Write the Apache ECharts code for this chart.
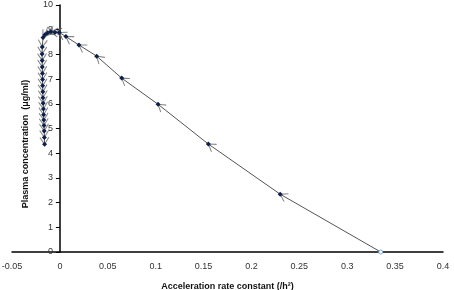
<!DOCTYPE html>
<html>
<head>
<meta charset="utf-8">
<script src="https://cdn.jsdelivr.net/npm/echarts@6/dist/echarts.min.js"></script>
<style>
html, body { margin: 0; padding: 0; background: #fff; }
#main { width: 454px; height: 290px; }
</style>
</head>
<body>
<div id="main"></div>
<script>
// trajectory, in the order it is travelled (start at the right, end at the bottom of the column)
var rateX = [0.335, 0.230, 0.155, 0.1025, 0.0645, 0.0384, 0.0199, 0.0063, -0.0007, -0.0052, -0.0094, -0.0129, -0.0157,
	-0.0176, -0.0184, -0.0186, -0.0185, -0.0184, -0.0182, -0.0181, -0.0180, -0.0178, -0.0177, -0.0175, -0.0172, -0.0170,
	-0.0168, -0.0166, -0.0164, -0.0162, -0.0160];
var concY = [0, 2.34, 4.37, 5.98, 7.04, 7.93, 8.38, 8.72, 8.89, 8.90, 8.92, 8.88, 8.80,
	8.68, 8.30, 8.02, 7.75, 7.49, 7.23, 6.98, 6.73, 6.49, 6.25, 6.02, 5.79, 5.56,
	5.34, 5.12, 4.90, 4.64, 4.36];
var xRange = [-0.05, 0.4], xStep = 0.05;
var yRange = [0, 10], yStep = 1;

var myChart = echarts.init(document.getElementById('main'));

var pts = rateX.map(function (x, i) { return [x, concY[i]]; });
var lineData = pts.map(function (p, i) {
	if (i === 0) {
		return { value: p, symbol: 'circle', symbolSize: 4, itemStyle: { color: '#fff', borderColor: '#7fa7d6', borderWidth: 1 } };
	}
	return p;
});

var arrowPath = 'path://M0,14 L5,7 L10,14 M5,0 L5,0';
var font = '"Liberation Sans Narrow", "Liberation Sans", sans-serif';
var gridLeft = 12, gridRight = 11;
// the vertical axis crosses at x = 0
var yAxisShift = -(0 - xRange[0]) / (xRange[1] - xRange[0]) * (454 - gridLeft - gridRight);

var option = {
	animation: false,
	grid: { left: gridLeft, right: gridRight, top: 5, bottom: 38, outerBoundsMode: 'none' },
	xAxis: {
		type: 'value',
		min: xRange[0], max: xRange[1], interval: xStep,
		name: 'Acceleration rate constant (/h\u00b2)',
		nameLocation: 'middle',
		nameGap: 30,
		nameTextStyle: { fontFamily: font, fontWeight: 'bold', fontSize: 9, color: '#111' },
		axisLine: { lineStyle: { color: '#000', width: 1.5 } },
		axisTick: { show: false },
		axisLabel: { fontFamily: font, fontSize: 9, color: '#333', margin: 10 },
		splitLine: { show: false }
	},
	yAxis: {
		type: 'value',
		min: yRange[0], max: yRange[1], interval: yStep,
		offset: yAxisShift,
		axisLine: { onZero: false, lineStyle: { color: '#000', width: 1.5 } },
		axisTick: { show: true, length: 4, lineStyle: { color: '#000' } },
		axisLabel: { fontFamily: font, fontSize: 9, color: '#333', margin: 7 },
		splitLine: { show: false }
	},
	graphic: [{
		type: 'text',
		x: 26, y: 144,
		rotation: Math.PI / 2,
		style: {
			text: 'Plasma concentration  (\u03bcg/ml)',
			font: 'bold 9px ' + font,
			fill: '#111',
			align: 'center',
			verticalAlign: 'middle'
		}
	}],
	series: [{
		name: 'path',
		type: 'line',
		data: lineData,
		symbol: 'diamond',
		symbolSize: 5,
		showAllSymbol: true,
		itemStyle: { color: '#0d1f4a' },
		lineStyle: { color: '#555', width: 1 },
		z: 3
	}, {
		name: 'arrows',
		type: 'scatter',
		data: [],
		symbol: arrowPath,
		symbolSize: [9, 14],
		itemStyle: { color: 'rgba(0,0,0,0)', borderColor: '#6a6a6a', borderWidth: 1.1 },
		z: 2
	}]
};
myChart.setOption(option);

// point each arrowhead along the direction of travel
var arrowData = [];
for (var i = 1; i < pts.length; i++) {
	var a = myChart.convertToPixel({ seriesIndex: 0 }, pts[i - 1]);
	var b = myChart.convertToPixel({ seriesIndex: 0 }, pts[i]);
	var ang = Math.atan2(-(b[0] - a[0]), -(b[1] - a[1])) * 180 / Math.PI;
	arrowData.push({ value: pts[i], symbolRotate: ang });
}
myChart.setOption({ series: [{}, { data: arrowData }] });
</script>
</body>
</html>
